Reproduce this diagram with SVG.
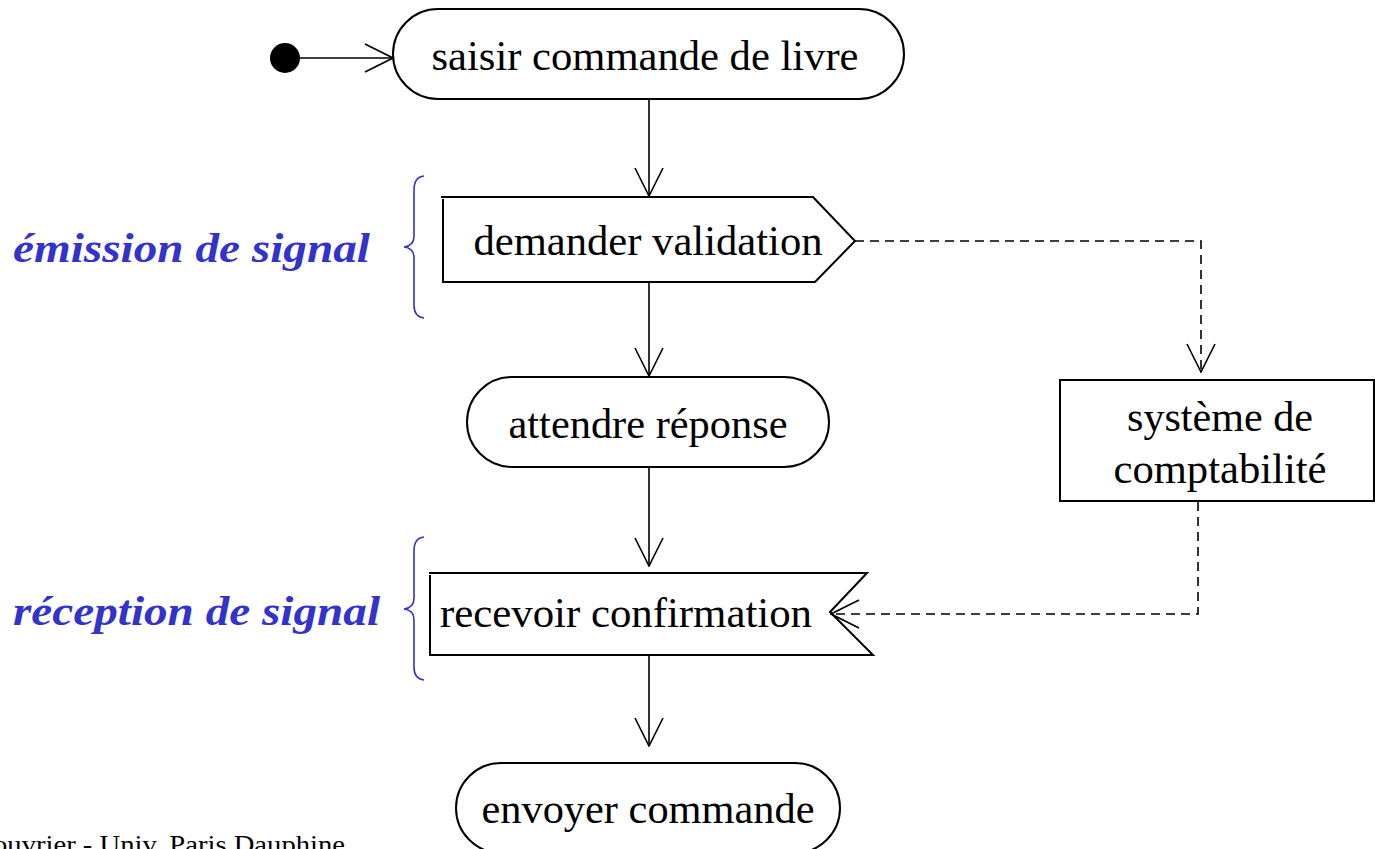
<svg xmlns="http://www.w3.org/2000/svg" width="1375" height="849" viewBox="0 0 1375 849">
<style>
.shape{fill:none;stroke:#000;stroke-width:2}
.lbl{font-family:"Liberation Serif","Times New Roman",serif;font-size:42px;fill:#000;text-anchor:middle}
.side{font-family:"Liberation Serif","Times New Roman",serif;font-size:42px;font-weight:bold;font-style:italic;fill:#3333cc}
.brace{fill:none;stroke:#3333cc;stroke-width:1.6}
.edge{fill:none;stroke:#000;stroke-width:1.6}
.dash{stroke-dasharray:9,6}
.foot{font-family:"Liberation Serif","Times New Roman",serif;font-size:25px;fill:#000}
</style>
<defs>
<marker id="open" viewBox="0 0 30 30" refX="29" refY="15" markerWidth="30" markerHeight="30" markerUnits="userSpaceOnUse" orient="auto">
<path d="M1,1 L29,15 L1,29" fill="none" stroke="#000" stroke-width="1.6"/>
</marker>
</defs>
<rect width="1375" height="849" fill="#fff"/>

<g id="initial">
<circle cx="285" cy="58" r="15" fill="#000"/>
</g>

<g id="saisir">
<rect class="shape" x="393" y="9" width="511" height="90" rx="45" ry="45"/>
<text class="lbl" x="645" y="70" textLength="427" lengthAdjust="spacingAndGlyphs">saisir commande de livre</text>
</g>

<g id="demander">
<path class="shape" d="M441,197 L813,197 L855,241 L815,282 L443,282 L443,199"/>
<text class="lbl" x="648" y="255" textLength="349" lengthAdjust="spacingAndGlyphs">demander validation</text>
</g>

<g id="attendre">
<rect class="shape" x="467" y="377" width="362" height="90" rx="45" ry="45"/>
<text class="lbl" x="648" y="438" textLength="279" lengthAdjust="spacingAndGlyphs">attendre réponse</text>
</g>

<g id="systeme">
<rect class="shape" x="1060" y="380" width="314" height="121"/>
<text class="lbl" x="1220" y="431" textLength="186" lengthAdjust="spacingAndGlyphs">système de</text>
<text class="lbl" x="1220" y="483" textLength="213" lengthAdjust="spacingAndGlyphs">comptabilité</text>
</g>

<g id="recevoir">
<path class="shape" d="M429,573 L867,573 L830,612 L873,655 L430,655 L430,575"/>
<text class="lbl" x="626" y="627" textLength="372" lengthAdjust="spacingAndGlyphs">recevoir confirmation</text>
</g>

<g id="envoyer">
<rect class="shape" x="456" y="763" width="384" height="90" rx="45" ry="45"/>
<text class="lbl" x="648" y="823" textLength="333" lengthAdjust="spacingAndGlyphs">envoyer commande</text>
</g>

<g id="emission-label">
<path class="brace" d="M424,176 Q414,177 414,190 L414,236 Q414,246 404,247 Q414,248 414,258 L414,305 Q414,317 424,318"/>
<text class="side" x="13" y="262" textLength="357" lengthAdjust="spacingAndGlyphs">émission de signal</text>
</g>

<g id="reception-label">
<path class="brace" d="M424,537 Q414,538 414,551 L414,598 Q414,608 404,609 Q414,610 414,620 L414,667 Q414,679 424,680"/>
<text class="side" x="13" y="625" textLength="367" lengthAdjust="spacingAndGlyphs">réception de signal</text>
</g>

<g id="connectors">
<line class="edge" x1="300" y1="58" x2="393" y2="58" marker-end="url(#open)"/>
<line class="edge" x1="649" y1="99" x2="649" y2="196" marker-end="url(#open)"/>
<line class="edge" x1="649" y1="282" x2="649" y2="376" marker-end="url(#open)"/>
<line class="edge" x1="649" y1="467" x2="649" y2="566" marker-end="url(#open)"/>
<line class="edge" x1="649" y1="655" x2="649" y2="746" marker-end="url(#open)"/>
<polyline class="edge dash" points="855,241 1201,241 1201,372" marker-end="url(#open)"/>
<polyline class="edge dash" points="1198,502 1198,614 831,614" marker-end="url(#open)"/>
</g>

<text class="foot" x="-7" y="853" textLength="352" lengthAdjust="spacingAndGlyphs">ouvrier - Univ. Paris Dauphine</text>
</svg>
